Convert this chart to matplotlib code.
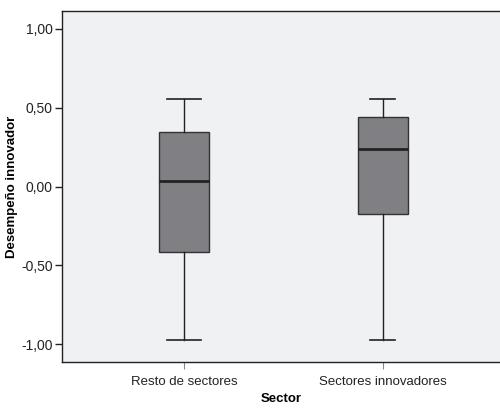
import matplotlib
matplotlib.use('Agg')
import matplotlib.pyplot as plt

plt.rcParams['font.family'] = ['Liberation Sans', 'DejaVu Sans']

# datos
sectores = ['Resto de sectores', 'Sectores innovadores']
bigote_inf = [-0.973, -0.973]
q1 = [-0.417, -0.175]
mediana = [0.036, 0.239]
q3 = [0.345, 0.44]
bigote_sup = [0.557, 0.557]

stats = []
for i in range(len(sectores)):
    stats.append({'label': sectores[i], 'whislo': bigote_inf[i], 'q1': q1[i],
                  'med': mediana[i], 'q3': q3[i], 'whishi': bigote_sup[i],
                  'fliers': []})

fig = plt.figure(figsize=(5, 4.08), dpi=100)
ax = fig.add_axes([0.124, 0.1127, 0.876, 0.8603])
ax.set_facecolor('#f0f1f3')

ax.bxp(stats, positions=[1, 2], widths=0.25, patch_artist=True,
       capwidths=[0.17, 0.125],
       boxprops=dict(facecolor='#808084', edgecolor='#333333', linewidth=1),
       medianprops=dict(color='#222222', linewidth=2),
       whiskerprops=dict(color='#222222', linewidth=1),
       capprops=dict(color='#222222', linewidth=1.2))

ax.set_xlim(0.385, 2.59)
ax.set_ylim(-1.114, 1.114)
ax.set_yticks([-1, -0.5, 0, 0.5, 1])
ax.set_yticklabels(['-1,00', '-0,50', '0,00', '0,50', '1,00'])
ax.tick_params(axis='y', labelsize=10, colors='#222222', length=5, width=1, pad=1.5)
ax.tick_params(axis='x', labelsize=9.5, labelcolor='#222222', length=5,
               color='#888888', pad=5)
for s in ['top', 'left', 'bottom']:
    ax.spines[s].set_color('#222222')
    ax.spines[s].set_linewidth(1)
ax.spines['right'].set_visible(False)

ax.set_ylabel('Desempeño innovador', fontsize=9.5, fontweight='bold', labelpad=2.5)
ax.set_xlabel('Sector', fontsize=9.5, fontweight='bold', labelpad=3.5)

fig.savefig('out.png', dpi=100)
